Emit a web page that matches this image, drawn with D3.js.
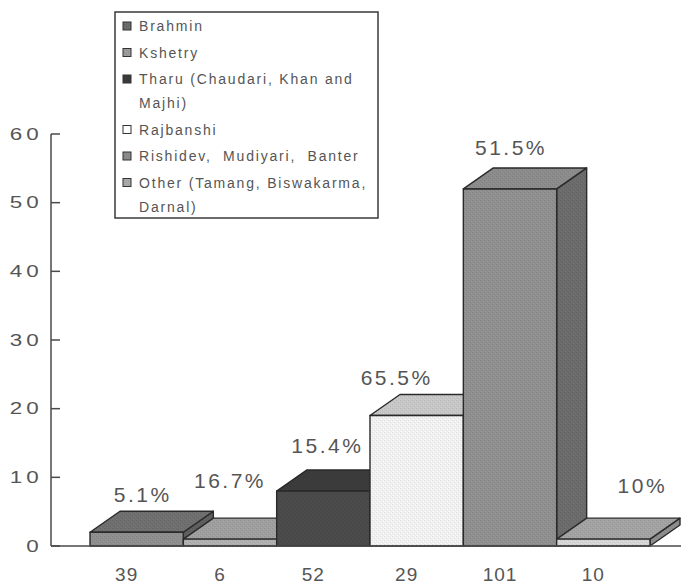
<!DOCTYPE html>
<html>
<head>
<meta charset="utf-8">
<script src="https://cdn.jsdelivr.net/npm/d3@7"></script>
<style>
  html, body { margin: 0; padding: 0; background: #fff; }
  svg { display: block; }
  text { font-family: "Liberation Sans", Arial, Helvetica, sans-serif; fill: #555; }
</style>
</head>
<body>
<svg id="chart" width="681" height="587"></svg>
<script>
// Caste / ethnic groups (legend), one bar per group
const groups = [
  "Brahmin",
  "Kshetry",
  "Tharu (Chaudari, Khan and\nMajhi)",
  "Rajbanshi",
  "Rishidev,  Mudiyari,  Banter",
  "Other (Tamang, Biswakarma,\nDarnal)"
];
// Total households surveyed per group (category axis labels)
const totals = ["39", "6", "52", "29", "101", "10"];
// Households in each group (bar heights)
const values = [2, 1, 8, 19, 52, 1];
// Share of the group's households (labels above bars)
const shares = ["5.1%", "16.7%", "15.4%", "65.5%", "51.5%", "10%"];
// Value axis ticks
const yTicks = [0, 10, 20, 30, 40, 50, 60];

// ---- layout & style ----
const W = 681, H = 587;
const axisX = 51;
const depth = { dx: 30, dy: -21 };

const shades = [
  { front: "#8e8e8e", top: "#6f6f6f", side: "#5f5f5f", swatch: "#6a6a6a" },
  { front: "#b0b0b0", top: "#9e9e9e", side: "#8a8a8a", swatch: "#9a9a9a" },
  { front: "#4a4a4a", top: "#3b3b3b", side: "#333333", swatch: "#3a3a3a" },
  { front: "#f0f0f0", top: "#c6c6c6", side: "#b5b5b5", swatch: "#ffffff" },
  { front: "#8f8f8f", top: "#8b8b8b", side: "#6b6b6b", swatch: "#8a8a8a" },
  { front: "#d6d6d6", top: "#a2a2a2", side: "#8c8c8c", swatch: "#a8a8a8" }
];
// nudges of the share labels from the top-back centre of each bar
const labelShift = [[-9, -9], [-15, -30], [-11, -17], [-35, -10], [-14, -13], [24, -25]];

const svg = d3.select("#chart");
const defs = svg.append("defs");

// Halftone-like texture for each fill
function texture(id, base) {
  const c = d3.color(base);
  const p = defs.append("pattern")
    .attr("id", id).attr("patternUnits", "userSpaceOnUse")
    .attr("width", 4).attr("height", 4);
  p.append("rect").attr("width", 4).attr("height", 4).attr("fill", base);
  const dark = c.darker(0.22).toString();
  const light = c.brighter(0.15).toString();
  [[0, 0, dark], [2, 2, dark], [1, 3, light], [3, 1, light]].forEach(([px, py, f]) =>
    p.append("rect").attr("x", px).attr("y", py).attr("width", 1).attr("height", 1).attr("fill", f));
  return `url(#${id})`;
}

const x = d3.scaleBand().domain(d3.range(groups.length)).range([90, 650]).padding(0);
const y = d3.scaleLinear().domain([0, 60]).range([546, 134]);
const base = y(0);

// ---- bars (drawn left to right so later bars overlap earlier sides) ----
const bars = svg.append("g").attr("class", "bars");
values.forEach((v, i) => {
  const x0 = x(i), x1 = x(i) + x.bandwidth();
  const yt = y(v);
  const s = shades[i];
  const g = bars.append("g");
  const poly = (pts, fill) => g.append("path")
    .attr("d", "M" + pts.map(q => q.join(",")).join("L") + "Z")
    .attr("fill", fill)
    .attr("stroke", "#2a2a2a").attr("stroke-width", 1.4).attr("stroke-linejoin", "round");
  // right side
  poly([[x1, yt], [x1 + depth.dx, yt + depth.dy], [x1 + depth.dx, base + depth.dy], [x1, base]],
       texture("side" + i, s.side));
  // top
  poly([[x0, yt], [x0 + depth.dx, yt + depth.dy], [x1 + depth.dx, yt + depth.dy], [x1, yt]],
       texture("top" + i, s.top));
  // front
  poly([[x0, yt], [x1, yt], [x1, base], [x0, base]], texture("front" + i, s.front));
});

// ---- share labels ----
svg.append("g").selectAll("text").data(shares).join("text")
  .attr("x", (d, i) => x(i) + x.bandwidth() / 2 + depth.dx / 2 + labelShift[i][0])
  .attr("y", (d, i) => y(values[i]) + depth.dy + labelShift[i][1])
  .attr("text-anchor", "middle")
  .style("font-size", "21px")
  .style("letter-spacing", "2.5px")
  .text(d => d);

// ---- axes ----
const axes = svg.append("g").attr("stroke", "#4a4a4a").attr("stroke-width", 1.5);
axes.append("line").attr("x1", axisX).attr("x2", axisX).attr("y1", y(60)).attr("y2", base);
axes.append("line").attr("x1", axisX).attr("x2", W).attr("y1", base).attr("y2", base);
axes.selectAll("line.tick").data(yTicks).join("line").attr("class", "tick")
  .attr("x1", axisX).attr("x2", axisX + 9)
  .attr("y1", d => y(d)).attr("y2", d => y(d));

svg.append("g").selectAll("g").data(yTicks).join("g")
  .attr("transform", d => `translate(43,${y(d)}) scale(1.4,1)`)
  .append("text")
  .attr("text-anchor", "end")
  .attr("dy", "0.36em")
  .style("font-size", "16px")
  .style("letter-spacing", "3px")
  .text(d => d);

svg.append("g").selectAll("text").data(totals).join("text")
  .attr("x", (d, i) => x(i) + x.bandwidth() / 2 - 10)
  .attr("y", 581)
  .attr("text-anchor", "middle")
  .style("font-size", "19px")
  .style("letter-spacing", "1px")
  .text(d => d);

// ---- legend ----
const legend = svg.append("g");
legend.append("rect").attr("x", 115).attr("y", 12).attr("width", 263).attr("height", 206)
  .attr("fill", "#fff").attr("stroke", "#3a3a3a").attr("stroke-width", 1.5);
let rowY = 26;
groups.forEach((name, i) => {
  legend.append("rect").attr("x", 123).attr("y", rowY - 4).attr("width", 8).attr("height", 8)
    .attr("fill", i === 3 ? "#fff" : texture("sw" + i, shades[i].swatch))
    .attr("stroke", "#333").attr("stroke-width", 1);
  const lines = name.split("\n");
  lines.forEach((ln, k) => {
    legend.append("text").attr("x", 139).attr("y", rowY + 5 + k * 24)
      .attr("xml:space", "preserve").style("white-space", "pre")
      .style("font-size", "14px").style("letter-spacing", "1.8px")
      .text(ln);
  });
  rowY += 26.5 + (lines.length - 1) * 24;
});
</script>
</body>
</html>
